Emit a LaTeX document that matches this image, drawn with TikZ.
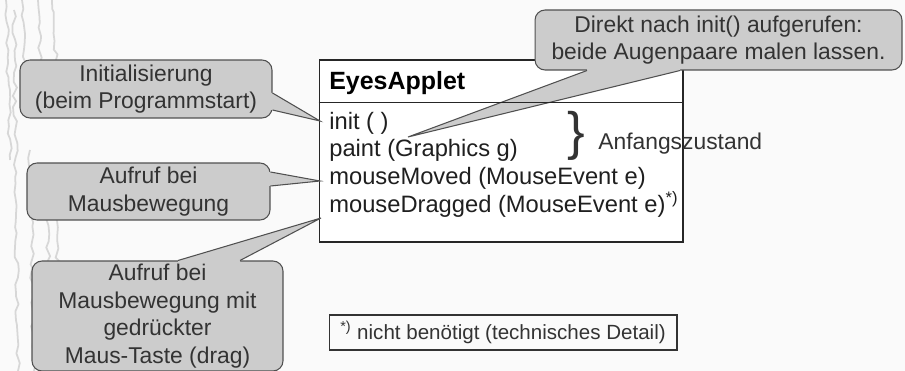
\documentclass[tikz,border=0pt]{standalone}
\usepackage{fontspec}
\setmainfont{Liberation Sans}
\usetikzlibrary{positioning,calc,decorations.pathmorphing}

\definecolor{bgcol}{RGB}{250,250,250}
\definecolor{callfill}{RGB}{204,204,204}
\definecolor{calldraw}{RGB}{80,80,80}
\definecolor{calltext}{RGB}{51,51,51}
\definecolor{streak}{RGB}{215,215,215}

% wedge of a callout: base a, base b, tip, inward shift
\newcommand{\wedgeto}[4]{%
  \fill[callfill] (#1) -- (#3) -- (#2) -- ($(#2)+(#4)$) -- ($(#1)+(#4)$) -- cycle;
  \draw[wedge] (#1) -- (#3) -- (#2);}

\begin{document}
\begin{tikzpicture}[x=0.02cm, y=-0.02cm,
  every node/.style={font=\fontsize{13}{15.7}\selectfont, inner sep=0pt},
  callout/.style={draw=calldraw, fill=callfill, rounded corners=0.2cm, align=center, text=calltext, line width=0.6pt},
  wedge/.style={draw=calldraw, line width=0.6pt, line join=miter},
  method/.style={anchor=base west, text=black!88, font=\fontsize{13.5}{16}\selectfont}
]
  \fill[bgcol] (0,0) rectangle (905,371);
  \useasboundingbox (0,0) rectangle (905,371);

  % faint streaks at the left edge
  \pgfmathsetseed{7}
  \foreach \x/\a/\b in {6/0/160, 14/10/371, 22/0/110, 30/150/371, 38/0/90, 46/170/330, 52/0/60, 55/200/290}
    \draw[streak, line width=1pt, decorate, decoration={random steps, segment length=4pt, amplitude=1.2pt}] (\x,\a) -- (\x+4,\b);

  % class box
  \node[draw=black!85, fill=white, line width=0.6pt, minimum width=7.28cm, minimum height=3.64cm] (applet) at (501,151) {};
  \node[anchor=base west, font=\bfseries\fontsize{14.2}{16}\selectfont] (title) at (329,90) {EyesApplet};
  \node[method] (initm)  at (329,130) {init ( )};
  \node[method] (paintm) at (329,157) {paint (Graphics g)};
  \node[method] (movem)  at (329,185) {mouseMoved (MouseEvent e)};
  \node[method] (dragm)  at (329,213) {mouseDragged (MouseEvent e)\textsuperscript{*)}};

  \node[text=black!80, font=\fontsize{30}{30}\selectfont] (brace) at (576,136) {\}};
  \node[anchor=base west, text=calltext] (state) at (598,150) {Anfangszustand};

  % tips of the callouts
  \coordinate (tipinit)   at (320,121);
  \coordinate (tipmove)   at (320,181);
  \coordinate (tipdrag)   at (321,218);
  \coordinate (tipdirect) at (408,137);

  % callouts
  \node[callout, minimum width=5.04cm, minimum height=1.16cm] (callinit) at (146,89)
    {Initialisierung\\(beim Programmstart)};
  \wedgeto{$(callinit.east)+(0,4)$}{$(callinit.east)+(0,21)$}{tipinit}{-3,0}

  \node[callout, minimum width=4.86cm, minimum height=1.14cm] (callmove) at (148.5,191.5)
    {Aufruf bei\\Mausbewegung};
  \wedgeto{$(callmove.east)+(0,-19.5)$}{$(callmove.east)+(0,-5.5)$}{tipmove}{-3,0}

  \node[callout, minimum width=5.02cm, minimum height=2.2cm] (calldrag) at (157.5,316)
    {Aufruf bei\\Mausbewegung mit\\gedrückter\\Maus-Taste (drag)};
  \wedgeto{$(calldrag.north)+(20.5,0)$}{$(calldrag.north)+(82.5,0)$}{tipdrag}{0,3}

  \node[callout, minimum width=7.34cm, minimum height=1.2cm] (calldirect) at (718.5,40)
    {Direkt nach init() aufgerufen:\\beide Augenpaare malen lassen.};
  \wedgeto{$(calldirect.south)+(-131.5,0)$}{$(calldirect.south)+(-38.5,0)$}{tipdirect}{0,-3}

  % header line of the class box
  \draw[black!85, line width=0.6pt] ($(applet.north west)+(0,43)$) -- ($(applet.north east)+(0,43)$);

  % footnote
  \node[draw=black!80, line width=0.6pt, text=calltext, font=\fontsize{11.7}{14}\selectfont, minimum width=6.96cm, minimum height=0.7cm] (note) at (503,332.5)
    {\textsuperscript{*)} nicht benötigt (technisches Detail)};
\end{tikzpicture}
\end{document}
